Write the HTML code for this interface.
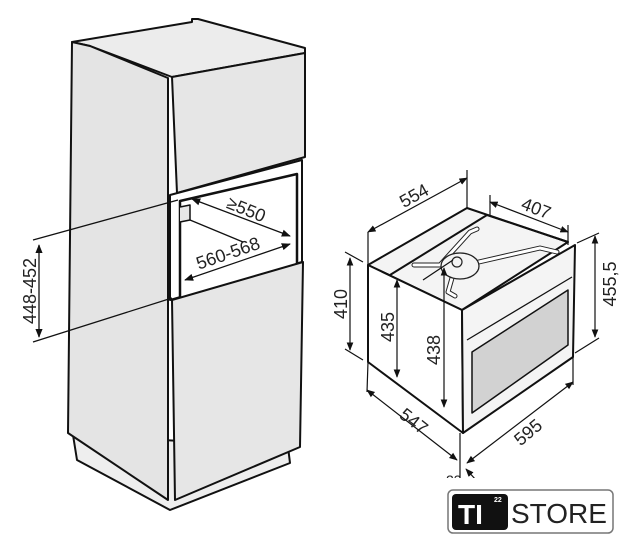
<!DOCTYPE html>
<html><head><meta charset="utf-8"><style>
html,body{margin:0;padding:0;background:#fff;}
svg{display:block;}
text{font-family:"Liberation Sans",sans-serif;fill:#222;}
</style></head><body>
<svg width="636" height="545" viewBox="0 0 636 545" xmlns="http://www.w3.org/2000/svg">
<defs>
<marker id="a" viewBox="0 0 10 10" refX="9" refY="5" markerWidth="7" markerHeight="7" orient="auto-start-reverse"><path d="M0,1 L10,5 L0,9 z" fill="#111"/></marker>
</defs>
<g stroke="#111" stroke-width="2" stroke-linejoin="round" fill="#e6e6e6">
<!-- plinth -->
<path d="M73,435 L77,460 L170,510 L290,463 L288,447 Z" fill="#eee"/>
<!-- top -->
<path d="M72,42 L192,22 L192,19 L198,19 L305,48 L305,53 L172,77 L90,46 Z" fill="#ececec"/>
<!-- left side panel -->
<path d="M72,42 L90,46 L168,78 L168,500 L68,433 Z" fill="#e4e4e4"/>
<!-- upper door -->
<path d="M172,77 L305,53 L305,157 L177,193 Z"/>
<!-- niche frame -->
<path d="M170,195 L302,160 L302,262 L170,300 Z" fill="#fff"/>
<path d="M180,201 L297,174 L297,267 L180,303 Z" fill="#fff" stroke-width="2.5"/>
<path d="M180,207 L190,205 L190,220 L180,222" fill="#e6e6e6" stroke-width="1.5"/>
<!-- lower door -->
<path d="M172,300 L303,262 L300,447 L175,500 Z"/>
</g>
<g stroke="#111" stroke-width="1.3" fill="none">
<line x1="190" y1="220" x2="243" y2="242"/>
<line x1="33" y1="240" x2="178" y2="200"/>
<line x1="33" y1="342" x2="172" y2="298"/>
<line x1="39" y1="245" x2="39" y2="337" marker-start="url(#a)" marker-end="url(#a)"/>
<line x1="192" y1="199" x2="290" y2="236" marker-start="url(#a)" marker-end="url(#a)"/>
<line x1="185" y1="280" x2="290" y2="244" marker-start="url(#a)" marker-end="url(#a)"/>
</g>
<text font-size="18" transform="translate(36,291) rotate(-90)" text-anchor="middle">448-452</text>
<text font-size="18" transform="translate(244,215) rotate(22)" text-anchor="middle">≥550</text>
<text font-size="18" transform="translate(230,259) rotate(-19)" text-anchor="middle">560-568</text>

<!-- oven -->
<g stroke="#111" stroke-width="2" stroke-linejoin="round">
<path d="M368,265 L467,208 L568,242 L462,310 Z" fill="#f4f4f4"/>
<path d="M368,265 L462,310 L463,433 L368,362 Z" fill="#fff"/>
<path d="M462,310 L575,245 L573,357 L463,433 Z" fill="#f4f4f4"/>
<path d="M472,352 L568,290 L568,345 L472,413 Z" fill="#d2d2d2" stroke-width="1.5"/>
<line x1="467" y1="340" x2="572" y2="277" stroke-width="1.3"/>
<line x1="390" y1="275" x2="487" y2="215" stroke-width="2"/>
<line x1="368" y1="265" x2="390" y2="275" stroke-width="1.5"/>
<line x1="487" y1="215" x2="568" y2="242" stroke-width="2"/>
</g>
<g fill="none" stroke-linejoin="round" stroke-linecap="round">
<path d="M414,265 L440,265 L470,232 L477,229 M457,267 L540,248 L557,252 M452,278 L448,292 L455,296" stroke="#222" stroke-width="5"/>
<path d="M414,265 L440,265 L470,232 L477,229 M457,267 L540,248 L557,252 M452,278 L448,292 L455,296" stroke="#fff" stroke-width="3"/>
<ellipse cx="460" cy="266" rx="19" ry="13" fill="#f4f4f4" stroke="#222" stroke-width="1.3"/>
<circle cx="457" cy="262" r="5" fill="#f4f4f4" stroke="#222" stroke-width="1.2"/>
</g>
<g stroke="#111" stroke-width="1.2" fill="none">
<line x1="368" y1="232" x2="368" y2="265"/>
<line x1="467" y1="170" x2="467" y2="208"/>
<line x1="368" y1="232" x2="467" y2="178" marker-start="url(#a)" marker-end="url(#a)"/>
<line x1="490" y1="195" x2="490" y2="215"/>
<line x1="568" y1="225" x2="568" y2="245"/>
<line x1="490" y1="202" x2="568" y2="232" marker-start="url(#a)" marker-end="url(#a)"/>
<line x1="577" y1="243" x2="599" y2="233"/>
<line x1="575" y1="353" x2="599" y2="338"/>
<line x1="595" y1="236" x2="595" y2="337" marker-start="url(#a)" marker-end="url(#a)"/>
<line x1="345" y1="252" x2="363" y2="262"/>
<line x1="345" y1="349" x2="363" y2="360"/>
<line x1="350" y1="258" x2="350" y2="350" marker-start="url(#a)" marker-end="url(#a)"/>
<line x1="397" y1="280" x2="397" y2="377" marker-start="url(#a)" marker-end="url(#a)"/>
<line x1="444" y1="268" x2="444" y2="407" marker-start="url(#a)" marker-end="url(#a)"/>
<line x1="423" y1="280" x2="453" y2="260"/>
<line x1="368" y1="362" x2="367" y2="392"/>
<line x1="367" y1="390" x2="457" y2="460" marker-start="url(#a)" marker-end="url(#a)"/>
<line x1="460" y1="433" x2="460" y2="478"/>
<line x1="573" y1="357" x2="573" y2="385"/>
<line x1="467" y1="463" x2="573" y2="382" marker-start="url(#a)" marker-end="url(#a)"/>
<line x1="476" y1="480" x2="466" y2="469" marker-end="url(#a)"/>
</g>
<text font-size="18" transform="translate(417,201) rotate(-29)" text-anchor="middle">554</text>
<text font-size="18" transform="translate(534,214) rotate(21)" text-anchor="middle">407</text>
<text font-size="18" transform="translate(616,284) rotate(-90)" text-anchor="middle">455,5</text>
<text font-size="18" transform="translate(347,304) rotate(-90)" text-anchor="middle">410</text>
<text font-size="18" transform="translate(394,327) rotate(-90)" text-anchor="middle">435</text>
<text font-size="18" transform="translate(440,350) rotate(-90)" text-anchor="middle">438</text>
<text font-size="18" transform="translate(410,426) rotate(38)" text-anchor="middle">547</text>
<text font-size="18" transform="translate(532,437) rotate(-40)" text-anchor="middle">595</text>
<text font-size="14" x="446" y="485">23</text>
<rect x="380" y="478" width="256" height="11" fill="#fff"/>
<!-- logo -->
<rect x="448" y="490" width="165" height="43" rx="5" fill="#fff" stroke="#777" stroke-width="1.5"/>
<rect x="452" y="494" width="56" height="36" rx="4" fill="#111"/>
<text x="458" y="524" font-size="28" font-weight="bold" style="fill:#fff">TI</text>
<text x="494" y="502" font-size="7" font-weight="bold" style="fill:#fff">22</text>
<text x="511" y="523" font-size="28" style="fill:#222">STORE</text>
</svg>
</body></html>
